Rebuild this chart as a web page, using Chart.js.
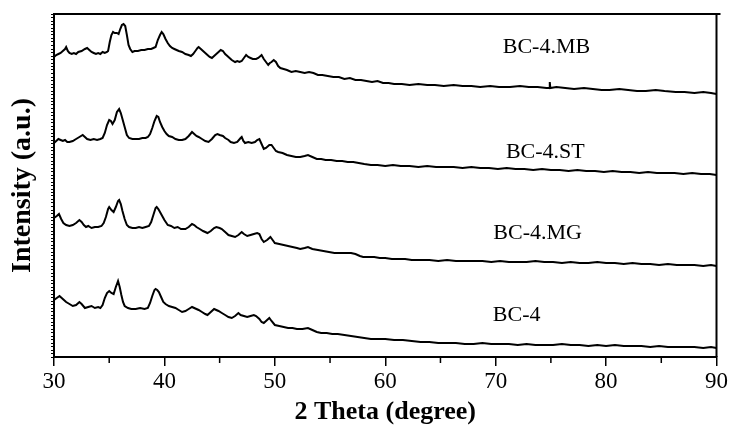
<!DOCTYPE html>
<html>
<head>
<meta charset="utf-8">
<script src="https://cdn.jsdelivr.net/npm/chart.js@4.4.1/dist/chart.umd.min.js"></script>
<style>
  html, body { margin: 0; padding: 0; background: #fff; }
</style>
</head>
<body>
<canvas id="xrd-chart" width="730" height="428"></canvas>
<script>
// 2 theta (deg), intensity (a.u., stacked offsets)
const bcMB = [
    [30.0, 300], [30.2, 302], [30.4, 303], [30.6, 304], [30.8, 306], [31.0, 308], [31.1, 310],
    [31.25, 306], [31.4, 304], [31.6, 303], [31.8, 304], [32.0, 303], [32.2, 305], [32.5, 306],
    [32.8, 308], [33.0, 309], [33.2, 307], [33.4, 305], [33.6, 304], [33.8, 303], [34.0, 304],
    [34.2, 303], [34.4, 305], [34.6, 304], [34.8, 305], [34.9, 306], [35.05, 315], [35.2, 322],
    [35.35, 325], [35.5, 324], [35.7, 324], [35.85, 323], [36.0, 328], [36.15, 332], [36.3, 333],
    [36.45, 331], [36.6, 322], [36.75, 312], [36.9, 308], [37.1, 305], [37.3, 306], [37.6, 306],
    [37.9, 307], [38.2, 307], [38.5, 308], [38.8, 308], [39.0, 309], [39.2, 310], [39.4, 317],
    [39.6, 322], [39.75, 325], [39.9, 323], [40.1, 318], [40.3, 314], [40.5, 311], [40.7, 309],
    [40.9, 308], [41.1, 307], [41.3, 306], [41.6, 305], [41.9, 303], [42.2, 302], [42.4, 301],
    [42.6, 303], [42.8, 306], [43.0, 309], [43.1, 310], [43.3, 308], [43.5, 306], [43.7, 304],
    [43.9, 302], [44.1, 300], [44.3, 299], [44.5, 301], [44.7, 303], [44.9, 305], [45.1, 307],
    [45.3, 306], [45.5, 303], [45.7, 301], [45.9, 299], [46.1, 297], [46.4, 295], [46.6, 296],
    [46.8, 295], [47.0, 296], [47.2, 299], [47.4, 302], [47.6, 300], [47.8, 299], [48.0, 298],
    [48.3, 298], [48.5, 299], [48.8, 302], [49.0, 298], [49.2, 295], [49.4, 292], [49.55, 294],
    [49.7, 295], [49.9, 297], [50.1, 295], [50.3, 291], [50.5, 289], [50.8, 288], [51.1, 287],
    [51.5, 285], [51.9, 286], [52.3, 285], [52.7, 284], [53.1, 285], [53.5, 284], [53.9, 282],
    [54.3, 282], [54.8, 281], [55.3, 280], [55.8, 280], [56.3, 278], [56.8, 279], [57.3, 277],
    [57.8, 277], [58.3, 276], [58.8, 275], [59.3, 276], [59.8, 274], [60.3, 274], [60.8, 273],
    [61.5, 273], [62.2, 272], [63.0, 273], [63.8, 272], [64.5, 272], [65.3, 271], [66.2, 272],
    [67.0, 271], [67.8, 271], [68.6, 270], [69.5, 271], [70.3, 270], [71.3, 270], [72.2, 271],
    [73.0, 270], [73.8, 270], [74.6, 269], [74.85, 269], [74.9, 275], [74.95, 269], [75.5, 270],
    [76.3, 269], [77.1, 268], [78.0, 269], [78.8, 268], [79.6, 267], [80.3, 267], [81.2, 268],
    [82.0, 267], [82.8, 266], [83.6, 266], [84.5, 267], [85.3, 266], [86.3, 265], [87.1, 265],
    [88.0, 264], [88.8, 265], [89.5, 264], [90.0, 263]
];
const bcST = [
    [30.0, 214], [30.2, 216], [30.4, 218], [30.6, 217], [30.8, 216], [31.0, 217], [31.2, 215],
    [31.4, 215], [31.7, 216], [32.0, 218], [32.3, 220], [32.6, 222], [32.8, 220], [33.0, 218],
    [33.3, 217], [33.6, 218], [33.9, 217], [34.2, 218], [34.4, 219], [34.6, 224], [34.8, 232],
    [35.0, 237], [35.15, 236], [35.3, 233], [35.5, 237], [35.7, 245], [35.9, 248], [36.05, 244],
    [36.2, 238], [36.4, 230], [36.6, 222], [36.8, 219], [37.1, 218], [37.4, 218], [37.7, 218],
    [38.0, 219], [38.3, 219], [38.5, 220], [38.7, 223], [38.9, 229], [39.1, 236], [39.3, 241],
    [39.45, 240], [39.6, 235], [39.8, 230], [40.0, 226], [40.2, 223], [40.4, 221], [40.7, 220],
    [41.0, 218], [41.3, 217], [41.6, 217], [41.9, 218], [42.2, 221], [42.5, 225], [42.7, 223],
    [42.9, 221], [43.1, 220], [43.4, 218], [43.7, 216], [44.0, 215], [44.3, 218], [44.6, 222],
    [44.8, 223], [45.0, 222], [45.3, 221], [45.5, 219], [45.8, 217], [46.0, 215], [46.3, 214],
    [46.6, 215], [46.9, 219], [47.0, 220], [47.15, 216], [47.3, 214], [47.6, 215], [47.9, 214],
    [48.2, 215], [48.4, 217], [48.6, 218], [48.8, 213], [49.0, 208], [49.2, 209], [49.5, 212],
    [49.7, 212], [49.9, 209], [50.1, 206], [50.3, 205], [50.7, 204], [51.1, 202], [51.5, 201],
    [51.9, 200], [52.3, 200], [52.7, 201], [53.0, 202], [53.4, 200], [53.8, 198], [54.2, 198],
    [54.6, 197], [55.1, 197], [55.6, 196], [56.1, 196], [56.6, 195], [57.1, 195], [57.6, 194],
    [58.1, 193], [58.7, 192], [59.3, 192], [60.0, 191], [60.7, 192], [61.4, 191], [62.2, 191],
    [63.0, 190], [63.8, 191], [64.6, 190], [65.4, 190], [66.2, 190], [67.0, 189], [67.8, 190],
    [68.6, 189], [69.4, 189], [70.2, 188], [71.0, 189], [71.8, 188], [72.6, 188], [73.4, 187],
    [74.2, 188], [75.0, 187], [75.8, 187], [76.6, 186], [77.4, 187], [78.2, 186], [79.0, 186],
    [79.8, 185], [80.6, 186], [81.4, 185], [82.2, 185], [83.0, 184], [83.8, 185], [84.6, 184],
    [85.4, 184], [86.2, 184], [87.0, 183], [87.8, 184], [88.6, 183], [89.4, 183], [90.0, 182]
];
const bcMG = [
    [30.0, 139], [30.25, 141], [30.45, 143], [30.65, 138], [30.85, 134], [31.1, 132], [31.4, 131],
    [31.7, 132], [32.0, 134], [32.3, 137], [32.5, 135], [32.7, 132], [32.9, 130], [33.1, 131],
    [33.4, 129], [33.7, 130], [34.0, 130], [34.3, 131], [34.5, 134], [34.7, 140], [34.9, 148],
    [35.0, 150], [35.2, 147], [35.4, 145], [35.6, 150], [35.8, 156], [35.9, 157], [36.05, 153],
    [36.2, 146], [36.4, 138], [36.6, 132], [36.8, 130], [37.1, 129], [37.4, 129], [37.7, 130],
    [38.0, 129], [38.3, 130], [38.6, 131], [38.8, 135], [39.0, 142], [39.2, 149], [39.3, 150],
    [39.45, 148], [39.6, 145], [39.8, 141], [40.0, 137], [40.3, 132], [40.6, 131], [40.9, 129],
    [41.2, 130], [41.5, 128], [41.9, 128], [42.2, 130], [42.5, 133], [42.7, 132], [42.9, 130],
    [43.2, 128], [43.5, 126], [43.9, 124], [44.2, 126], [44.5, 129], [44.7, 130], [45.0, 129],
    [45.2, 128], [45.5, 125], [45.8, 122], [46.1, 121], [46.4, 120], [46.7, 122], [47.0, 125],
    [47.2, 123], [47.5, 121], [47.8, 122], [48.1, 123], [48.4, 124], [48.6, 123], [48.8, 118],
    [49.0, 115], [49.3, 117], [49.6, 120], [49.8, 117], [50.0, 114], [50.4, 113], [50.8, 112],
    [51.2, 111], [51.6, 110], [52.0, 109], [52.3, 108], [52.7, 109], [53.0, 110], [53.4, 108],
    [53.9, 107], [54.4, 106], [54.9, 105], [55.4, 104], [55.9, 104], [56.4, 104], [56.9, 104],
    [57.3, 103], [57.7, 101], [58.0, 100], [58.5, 100], [59.0, 100], [59.5, 99], [60.0, 99],
    [60.6, 98], [61.2, 98], [61.8, 98], [62.4, 97], [63.2, 97], [64.0, 97], [64.8, 96],
    [65.6, 97], [66.4, 96], [67.2, 96], [68.0, 96], [68.8, 96], [69.6, 95], [70.4, 96],
    [71.2, 95], [72.0, 95], [72.8, 95], [73.6, 96], [74.4, 95], [75.2, 95], [76.0, 94],
    [76.8, 95], [77.6, 94], [78.4, 94], [79.2, 95], [80.0, 94], [80.8, 94], [81.6, 93],
    [82.4, 94], [83.2, 93], [84.0, 93], [84.8, 92], [85.6, 93], [86.4, 92], [87.2, 92],
    [88.0, 92], [88.8, 91], [89.5, 92], [90.0, 91]
];
const bc4 = [
    [30.0, 57], [30.25, 59], [30.5, 61], [30.7, 59], [30.9, 57], [31.1, 55], [31.4, 53],
    [31.7, 51], [32.0, 52], [32.3, 55], [32.5, 53], [32.8, 49], [33.1, 50], [33.4, 51],
    [33.7, 49], [34.0, 50], [34.2, 49], [34.4, 52], [34.6, 59], [34.8, 64], [35.0, 66],
    [35.2, 64], [35.4, 63], [35.6, 70], [35.8, 76], [35.95, 70], [36.1, 62], [36.25, 55],
    [36.4, 51], [36.7, 49], [37.0, 48], [37.4, 48], [37.8, 49], [38.2, 48], [38.5, 49],
    [38.7, 54], [38.9, 61], [39.1, 67], [39.2, 68], [39.35, 67], [39.5, 65], [39.7, 60],
    [39.9, 55], [40.1, 53], [40.4, 51], [40.7, 50], [41.0, 49], [41.3, 47], [41.6, 45],
    [41.9, 46], [42.2, 48], [42.5, 50], [42.7, 49], [42.9, 48], [43.1, 47], [43.4, 45],
    [43.7, 43], [43.9, 42], [44.2, 45], [44.5, 48], [44.7, 47], [44.9, 46], [45.2, 44],
    [45.5, 42], [45.8, 40], [46.1, 39], [46.4, 41], [46.7, 44], [46.9, 42], [47.2, 41],
    [47.5, 40], [47.8, 41], [48.1, 42], [48.3, 41], [48.6, 38], [48.8, 35], [49.0, 34],
    [49.3, 37], [49.5, 39], [49.7, 36], [50.0, 32], [50.4, 31], [50.8, 30], [51.2, 29],
    [51.6, 29], [52.0, 28], [52.5, 28], [53.0, 29], [53.4, 27], [53.8, 25], [54.2, 24],
    [54.7, 24], [55.2, 23], [55.7, 23], [56.3, 22], [56.9, 21], [57.5, 20], [58.1, 19],
    [58.7, 18], [59.3, 18], [60.0, 18], [60.8, 17], [61.6, 17], [62.4, 16], [63.2, 15],
    [64.0, 15], [64.8, 14], [65.6, 14], [66.4, 14], [67.2, 13], [68.0, 13], [68.8, 14],
    [69.6, 13], [70.4, 13], [71.2, 13], [72.0, 12], [72.8, 13], [73.6, 12], [74.4, 12],
    [75.2, 12], [76.0, 13], [76.8, 12], [77.6, 12], [78.4, 11], [79.2, 12], [80.0, 11],
    [80.8, 12], [81.6, 11], [82.4, 11], [83.2, 11], [84.0, 10], [84.8, 11], [85.6, 10],
    [86.4, 10], [87.2, 10], [88.0, 10], [88.8, 9], [89.5, 10], [90.0, 9]
];

const seriesNames = ["BC-4.MB", "BC-4.ST", "BC-4.MG", "BC-4"];
const seriesData = [bcMB, bcST, bcMG, bc4];
// label anchor (2 theta, intensity) for each curve name
const labelTheta = [74.6, 74.5, 73.8, 71.9];
const labelIntensity = [310, 205, 124, 42];

const xTicks = [30, 40, 50, 60, 70, 80, 90];
const xMinorTicks = [35, 45, 55, 65, 75, 85];

const serif = "'Liberation Serif', 'Times New Roman', serif";

const framePlugin = {
    id: "frame",
    afterDraw(chart) {
        const { ctx, chartArea: { left, right, top, bottom }, scales: { x, y } } = chart;
        ctx.save();
        ctx.strokeStyle = "#000";
        ctx.lineWidth = 2;
        ctx.beginPath();
        ctx.moveTo(left - 1, top);
        ctx.lineTo(right + 4, top);
        ctx.moveTo(right, top);
        ctx.lineTo(right, bottom);
        ctx.stroke();

        ctx.lineWidth = 1.5;
        ctx.beginPath();
        xMinorTicks.forEach(v => {
            const px = x.getPixelForValue(v);
            ctx.moveTo(px, bottom);
            ctx.lineTo(px, bottom + 6);
        });
        ctx.stroke();

        ctx.fillStyle = "#000";
        ctx.font = "22px " + serif;
        ctx.textAlign = "center";
        ctx.textBaseline = "middle";
        seriesNames.forEach((name, i) => {
            ctx.fillText(name, x.getPixelForValue(labelTheta[i]), y.getPixelForValue(labelIntensity[i]));
        });
        ctx.restore();
    }
};

const ctx = document.getElementById("xrd-chart").getContext("2d");
new Chart(ctx, {
    type: "line",
    data: {
        datasets: seriesData.map((pts, i) => ({
            label: seriesNames[i],
            data: pts.map(p => ({ x: p[0], y: p[1] })),
            borderColor: "#000",
            borderWidth: 2,
            pointRadius: 0,
            tension: 0,
            fill: false
        }))
    },
    options: {
        responsive: false,
        animation: false,
        layout: { padding: { top: 14, right: 9, bottom: 0, left: 0 } },
        plugins: {
            legend: { display: false },
            tooltip: { enabled: false }
        },
        scales: {
            x: {
                type: "linear",
                min: 30,
                max: 90,
                afterBuildTicks: s => { s.ticks = xTicks.map(v => ({ value: v })); },
                ticks: {
                    color: "#000",
                    padding: 2,
                    maxRotation: 0,
                    font: { family: serif, size: 23 }
                },
                grid: { drawOnChartArea: false, tickLength: 9, color: "#000", lineWidth: 1.5 },
                border: { color: "#000", width: 2 },
                title: {
                    display: true,
                    text: "2 Theta (degree)",
                    color: "#000",
                    padding: { top: 0, bottom: 0 },
                    font: { family: serif, size: 26, weight: "bold" }
                },
                afterFit: s => { s.height = 71; }
            },
            y: {
                type: "linear",
                min: 0,
                max: 343,
                ticks: { display: false, stepSize: 3.5, maxTicksLimit: 200 },
                grid: { drawOnChartArea: false, tickLength: 3, color: "#000", lineWidth: 1 },
                border: { color: "#000", width: 2 },
                title: {
                    display: true,
                    text: "Intensity (a.u.)",
                    color: "#000",
                    padding: { top: 6, bottom: 0 },
                    font: { family: serif, size: 28, weight: "bold" }
                },
                afterFit: s => { s.width = 54; }
            }
        }
    },
    plugins: [framePlugin]
});
</script>
</body>
</html>
